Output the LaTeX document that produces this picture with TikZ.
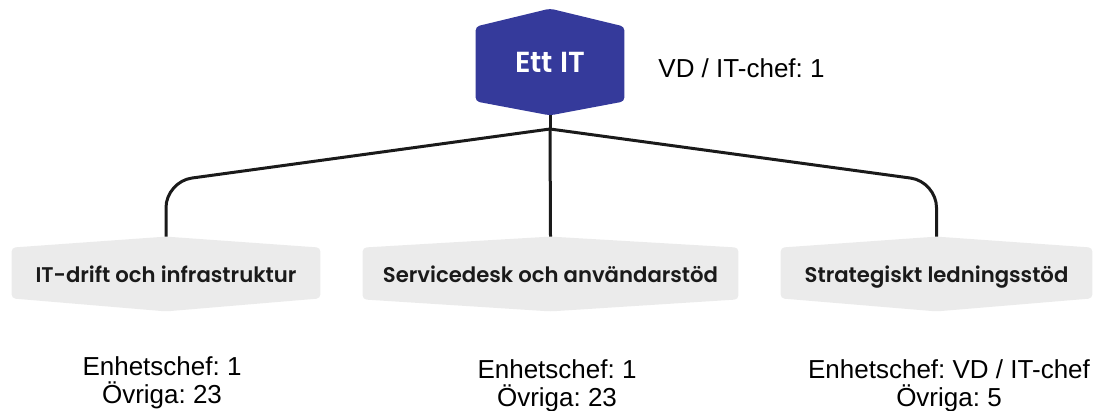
\documentclass[tikz,border=0pt]{standalone}
\usepackage{fontspec}
\setmainfont{Liberation Sans}
\newfontfamily\boxfont{Poppins}[BoldFont={* SemiBold}]
\usetikzlibrary{calc, backgrounds}

\definecolor{ettblue}{HTML}{353A9B}
\definecolor{unitgray}{HTML}{EBEBEB}
\definecolor{wireblack}{HTML}{1A1A1A}

% hexagon behind a node: node, colour, top point, bottom point
\newcommand{\hexfill}[4]{%
  \fill[#2, rounded corners=2pt] (#1.north) -- ($(#1.north east)+(0,-#3)$)
    -- ($(#1.south east)+(0,#4)$) -- (#1.south) -- ($(#1.south west)+(0,#4)$)
    -- ($(#1.north west)+(0,-#3)$) -- cycle;}

\frenchspacing
\begin{document}
\begin{tikzpicture}[x=0.5pt, y=-0.5pt,
    headbox/.style={inner sep=0pt, minimum width=74pt, minimum height=53pt,
      text=white, font=\boxfont\bfseries\fontsize{14.5}{16}\selectfont},
    unitbox/.style={inner sep=0pt, minimum height=37pt, text depth=0pt,
      text=wireblack, font=\boxfont\bfseries\fontsize{10.6}{12}\selectfont},
    count/.style={inner sep=0pt, align=center, font=\fontsize{13}{14}\selectfont},
    wire/.style={draw=wireblack, line width=1.5pt}]
    \useasboundingbox (0,0) rectangle (1097,411);

    \node[headbox] (ett) at (550,62) {Ett IT};
    \node[count, anchor=base] (ettcount) at (741.5,78) {VD / IT-chef: 1};

    \node[unitbox, minimum width=154pt] (infra) at (166,274) {IT-drift och infrastruktur};
    \node[unitbox, minimum width=187.5pt] (desk) at (550.5,274) {Servicedesk och användarstöd};
    \node[unitbox, minimum width=155.5pt] (strat) at (936.5,274) {Strategiskt ledningsstöd};

    \node[count, anchor=north] (infracount) at (162,356) {Enhetschef: 1\\Övriga: 23};
    \node[count, anchor=north] (deskcount) at (557,359) {Enhetschef: 1\\Övriga: 23};
    \node[count, anchor=north] (stratcount) at (949,359) {Enhetschef: VD / IT-chef\\Övriga: 5};

    \begin{scope}[on background layer]
        \hexfill{ett}{ettblue}{9pt}{7pt}
        \hexfill{infra}{unitgray}{5.5pt}{6.5pt}
        \hexfill{desk}{unitgray}{5.5pt}{6pt}
        \hexfill{strat}{unitgray}{5.5pt}{6.5pt}
    \end{scope}

    \coordinate (hub) at (550,129);
    \draw[wire] (ett.south) -- (hub);
    \draw[wire] (hub) -- (desk.north);
    \draw[wire, rounded corners=13pt] (hub) -- ([yshift=27.5pt]infra.north) -- (infra.north);
    \draw[wire, rounded corners=13pt] (hub) -- ([yshift=27.5pt]strat.north) -- (strat.north);
\end{tikzpicture}
\end{document}
